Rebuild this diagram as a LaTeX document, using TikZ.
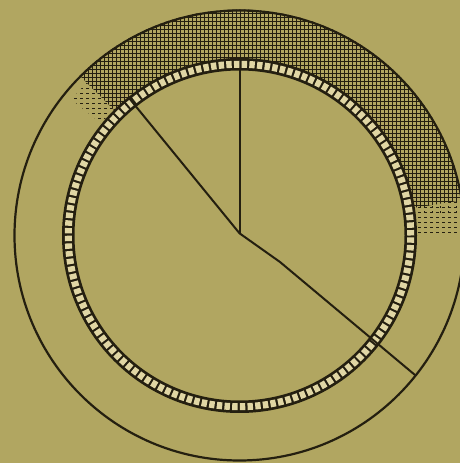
\documentclass[tikz,border=0pt]{standalone}
\usetikzlibrary{calc}
\definecolor{bg}{RGB}{177,166,97}
\definecolor{ink}{RGB}{36,31,16}
\definecolor{paper}{RGB}{224,214,164}
\begin{document}
\begin{tikzpicture}[x=1pt,y=1pt,
  inkline/.style={ink, line width=2pt},
  rimline/.style={ink, line width=2.2pt},
  hatch/.style={ink, line width=0.85pt},
  fadehatch/.style={ink, line width=0.9pt, dash pattern=on 3pt off 3pt}]
\fill[bg] (0,0) rectangle (460,463);
\useasboundingbox (0,0) rectangle (460,463);
\coordinate (O) at (239.5,227.5);
% hatched band (full grid)
\begin{scope}
  \clip ($(O)+(9:176)$) arc[start angle=9,end angle=135,radius=176]
        -- ($(O)+(135:226)$) arc[start angle=135,end angle=9,radius=226] -- cycle;
  \foreach \x in {0,4,...,460} \draw[hatch] (\x,230) -- (\x,463);
  \foreach \y in {230,234,...,463} \draw[hatch] (0,\y) -- (460,\y);
\end{scope}
% fading ends of the band
\begin{scope}
  \clip ($(O)+(-1:176)$) arc[start angle=-1,end angle=9,radius=176]
        -- ($(O)+(9:226)$) arc[start angle=9,end angle=-1,radius=226] -- cycle;
  \foreach \y in {231,236,...,266} \draw[fadehatch] (400,\y) -- (460,\y);
  \foreach \x in {424,432,...,460} \draw[fadehatch, dash pattern=on 2pt off 3pt] (\x,250) -- (\x,266);
\end{scope}
\begin{scope}
  \clip ($(O)+(135:178)$) arc[start angle=135,end angle=141,radius=178]
        -- ($(O)+(141:216)$) arc[start angle=141,end angle=135,radius=216] -- cycle;
  \foreach \y in {340,345,...,400} \draw[fadehatch, line width=0.7pt] (50,\y) -- (140,\y);
\end{scope}
% outer circle
\draw[rimline] (O) circle[radius=225];
% dotted ring
\fill[ink, even odd rule] (O) circle[radius=177.5] (O) circle[radius=165];
\draw[paper, line width=7pt, dash pattern=on 5.4pt off 2.29pt] (O) circle[radius=171.25];
% radial lines
\coordinate (J) at (239.5,229.7);
\coordinate (topEnd) at ($(O)+(90:165)$);
\coordinate (ulEnd) at (129,365);
\coordinate (kink) at (280,201);
\coordinate (drEnd) at (415,88);
\draw[inkline] (J) -- (topEnd);
\draw[inkline, line join=round] (ulEnd) -- (J) -- (kink) -- (drEnd);
\end{tikzpicture}
\end{document}
